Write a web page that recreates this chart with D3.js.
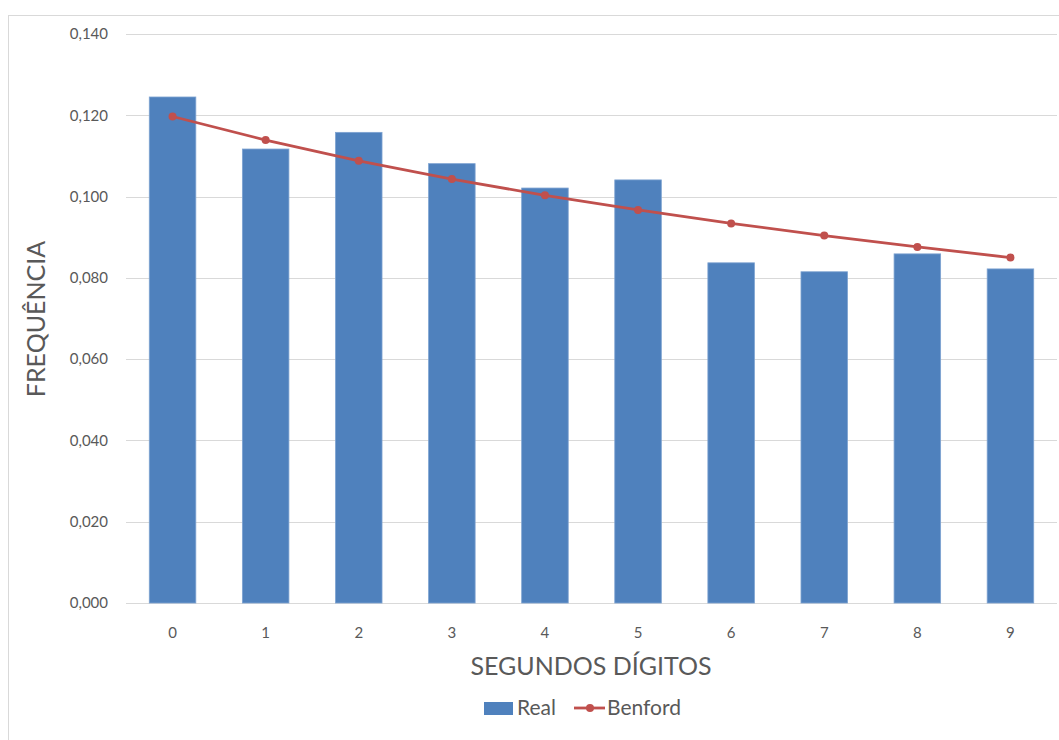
<!DOCTYPE html>
<html>
<head>
<meta charset="utf-8">
<script src="https://cdn.jsdelivr.net/npm/d3@7"></script>
<style>
  body { margin: 0; background: #fff; }
  svg { display: block; font-family: Lato, "Open Sans", sans-serif; }
</style>
</head>
<body>
<svg id="chart" width="1059" height="740"></svg>
<script>
// Chart data
const digits = ['0', '1', '2', '3', '4', '5', '6', '7', '8', '9'];
const realValues = [0.1245, 0.1117, 0.1158, 0.1081, 0.1021, 0.1041, 0.0837, 0.0815, 0.0859, 0.0822];
const benfordValues = [0.1197, 0.1139, 0.1088, 0.1043, 0.1003, 0.0967, 0.0934, 0.0904, 0.0876, 0.0850];
const yTicks = [0, 0.02, 0.04, 0.06, 0.08, 0.10, 0.12, 0.14];

const svg = d3.select('#chart');
const margin = { top: 34, right: 2, bottom: 137, left: 126 };
const width = 1059 - margin.left - margin.right;
const height = 740 - margin.top - margin.bottom;

// Outer frame
svg.append('rect')
    .attr('x', 8.5).attr('y', 15.5)
    .attr('width', 1060).attr('height', 740)
    .attr('fill', 'none')
    .attr('stroke', '#d9d9d9');

const g = svg.append('g').attr('transform', `translate(${margin.left},${margin.top})`);

const x = d3.scaleBand().domain(digits).range([0, width]).paddingInner(0.5).paddingOuter(0.25);
const y = d3.scaleLinear().domain([0, 0.14]).range([height, 0]);

const fmt = v => d3.format('.3f')(v).replace('.', ',');

// Gridlines
g.append('g')
    .selectAll('line')
    .data(yTicks)
    .join('line')
    .attr('x1', 0).attr('x2', width)
    .attr('y1', d => Math.round(y(d)) + 0.5)
    .attr('y2', d => Math.round(y(d)) + 0.5)
    .attr('stroke', '#d9d9d9');

// Y tick labels
g.append('g')
    .selectAll('text')
    .data(yTicks)
    .join('text')
    .attr('x', -18)
    .attr('y', d => y(d))
    .attr('dy', '0.35em')
    .attr('text-anchor', 'end')
    .attr('font-size', 15)
    .attr('fill', '#595959')
    .text(fmt);

// X tick labels
g.append('g')
    .selectAll('text')
    .data(digits)
    .join('text')
    .attr('x', d => x(d) + x.bandwidth() / 2)
    .attr('y', height + 30)
    .attr('dy', '0.35em')
    .attr('text-anchor', 'middle')
    .attr('font-size', 15)
    .attr('fill', '#595959')
    .text(d => d);

// Bars
g.append('g')
    .selectAll('rect')
    .data(realValues)
    .join('rect')
    .attr('x', (d, i) => x(digits[i]))
    .attr('y', d => y(d))
    .attr('width', x.bandwidth())
    .attr('height', d => height - y(d))
    .attr('fill', '#4f81bd')
    .attr('stroke', '#7ea3d1')
    .attr('stroke-width', 0.8);

// Benford line
const line = d3.line()
    .x((d, i) => x(digits[i]) + x.bandwidth() / 2)
    .y(d => y(d));

g.append('path')
    .datum(benfordValues)
    .attr('d', line)
    .attr('fill', 'none')
    .attr('stroke', '#c0504d')
    .attr('stroke-width', 2.8);

g.append('g')
    .selectAll('circle')
    .data(benfordValues)
    .join('circle')
    .attr('cx', (d, i) => x(digits[i]) + x.bandwidth() / 2)
    .attr('cy', d => y(d))
    .attr('r', 4)
    .attr('fill', '#c0504d');

// Axis titles
svg.append('text')
    .attr('transform', 'translate(45,319) rotate(-90)')
    .attr('text-anchor', 'middle')
    .attr('font-size', 25)
    .attr('fill', '#595959')
    .text('FREQUÊNCIA');

svg.append('text')
    .attr('x', 591)
    .attr('y', 675)
    .attr('text-anchor', 'middle')
    .attr('font-size', 25)
    .attr('fill', '#595959')
    .text('SEGUNDOS DÍGITOS');

// Legend
const legend = svg.append('g').attr('transform', 'translate(484,708)');
legend.append('rect')
    .attr('x', 0).attr('y', -6)
    .attr('width', 29).attr('height', 13)
    .attr('fill', '#4f81bd');
legend.append('text')
    .attr('x', 33).attr('y', 0)
    .attr('dy', '0.35em')
    .attr('font-size', 21)
    .attr('fill', '#595959')
    .text('Real');
legend.append('line')
    .attr('x1', 90).attr('x2', 121)
    .attr('y1', 0).attr('y2', 0)
    .attr('stroke', '#c0504d')
    .attr('stroke-width', 2.8);
legend.append('circle')
    .attr('cx', 106).attr('cy', 0).attr('r', 4)
    .attr('fill', '#c0504d');
legend.append('text')
    .attr('x', 123).attr('y', 0)
    .attr('dy', '0.35em')
    .attr('font-size', 21)
    .attr('fill', '#595959')
    .text('Benford');
</script>
</body>
</html>
